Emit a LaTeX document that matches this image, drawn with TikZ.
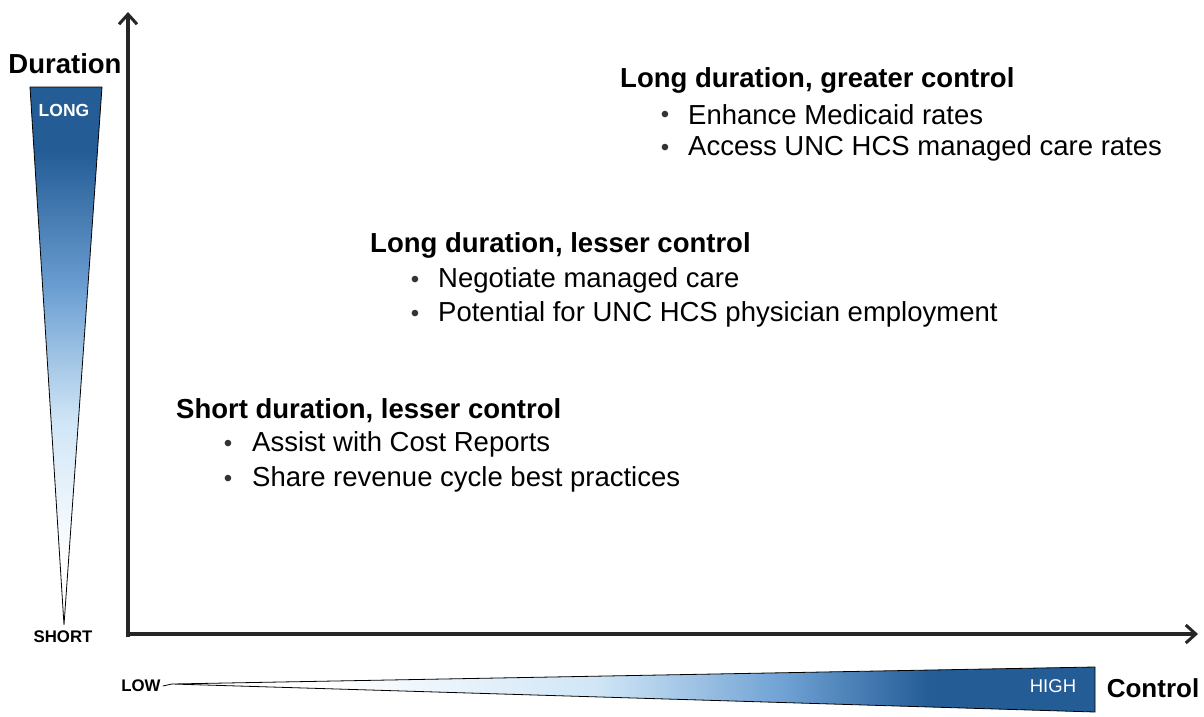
\documentclass[tikz,border=0pt]{standalone}
\usepackage{fontspec}
\setmainfont{Liberation Sans}
\usetikzlibrary{arrows.meta}
\definecolor{dblue}{HTML}{245C96}
\definecolor{mblue}{HTML}{6C9FD2}
\definecolor{lblue}{HTML}{CFE5F6}
\begin{document}
\begin{tikzpicture}[x=1pt,y=-1pt,
  head/.style={font=\fontsize{27.5}{30}\selectfont\bfseries, anchor=west, inner sep=0},
  item/.style={font=\fontsize{27.5}{30}\selectfont, anchor=west, inner sep=0},
  dot/.style={font=\fontsize{24}{30}\selectfont, text=black!80, anchor=center, inner sep=0},
  axis/.style={line width=3.2pt, draw=black!85, -{Straight Barb[length=10pt,width=18pt,line width=3pt]}},
  small/.style={font=\fontsize{16.8}{19}\selectfont\bfseries, inner sep=0},
  smallw/.style={font=\fontsize{18.5}{20}\selectfont, text=white, inner sep=0}]
\useasboundingbox (0,0) rectangle (1204,717);
\fill[white] (0,0) rectangle (1204,717);
% vertical triangle
\begin{scope}
  \clip (30,87) -- (102,87) -- (64,625) -- cycle;
  \fill[white] (0,87) rectangle (130,630);
  \fill[dblue] (20,86) rectangle (110,151);
  \shade[top color=dblue, bottom color=mblue] (20,150) rectangle (110,290);
  \shade[top color=mblue, bottom color=lblue] (20,289) rectangle (110,420);
  \shade[top color=lblue, bottom color=white] (20,419) rectangle (110,560);
\end{scope}
\draw[line width=0.8pt] (30,87) -- (102,87) -- (64,625) -- cycle;
% horizontal triangle
\begin{scope}
  \clip (172,684) -- (1095,667) -- (1095,712) -- cycle;
  \fill[white] (160,660) rectangle (1100,715);
  \shade[left color=white, right color=lblue] (330,660) rectangle (600,715);
  \shade[left color=lblue, right color=mblue] (599,660) rectangle (790,715);
  \shade[left color=mblue, right color=dblue] (789,660) rectangle (930,715);
  \fill[dblue] (929,660) rectangle (1100,715);
\end{scope}
\draw[line width=0.8pt] (172,684) -- (1095,667) -- (1095,712) -- cycle;
\coordinate (apex) at (172,684);
% axes
\coordinate (ytip) at (128,12);
\coordinate (xtip) at (1198,634);
\draw[axis] (128,637) -- (ytip);
\draw[axis] (126.4,634) -- (xtip);
% labels
\node[font=\fontsize{27.5}{30}\selectfont\bfseries, inner sep=0] (dur) at (65,64) {Duration};
\node[smallw, font=\fontsize{17.5}{20}\selectfont\bfseries] (long) at (64,110) {LONG};
\node[small] (short) at (63,637) {SHORT};
\node[small] (low) at (141,686) {LOW};
\draw[line width=0.8pt] (low.east) ++(2,0) -- (apex);
\node[smallw] (high) at (1053,686) {HIGH};
\node[font=\fontsize{26}{28}\selectfont\bfseries, inner sep=0] (ctrl) at (1153,688) {Control};
% text blocks
\node[head] (h1) at (620,80) {Long duration, greater control};
\node[dot] (d11) at (665,117) {•};
\node[item] (t11) at (688,115) {Enhance Medicaid rates};
\node[dot] (d12) at (665,150) {•};
\node[item] (t12) at (688,148) {Access UNC HCS managed care rates};
\node[head] (h2) at (370,245) {Long duration, lesser control};
\node[dot] (d21) at (415,282) {•};
\node[item] (t21) at (438,280) {Negotiate managed care};
\node[dot] (d22) at (415,316) {•};
\node[item] (t22) at (438,314) {Potential for UNC HCS physician employment};
\node[head] (h3) at (176,411) {Short duration, lesser control};
\node[dot] (d31) at (228,446) {•};
\node[item] (t31) at (252,444) {Assist with Cost Reports};
\node[dot] (d32) at (228,481) {•};
\node[item] (t32) at (252,479) {Share revenue cycle best practices};
\end{tikzpicture}
\end{document}
